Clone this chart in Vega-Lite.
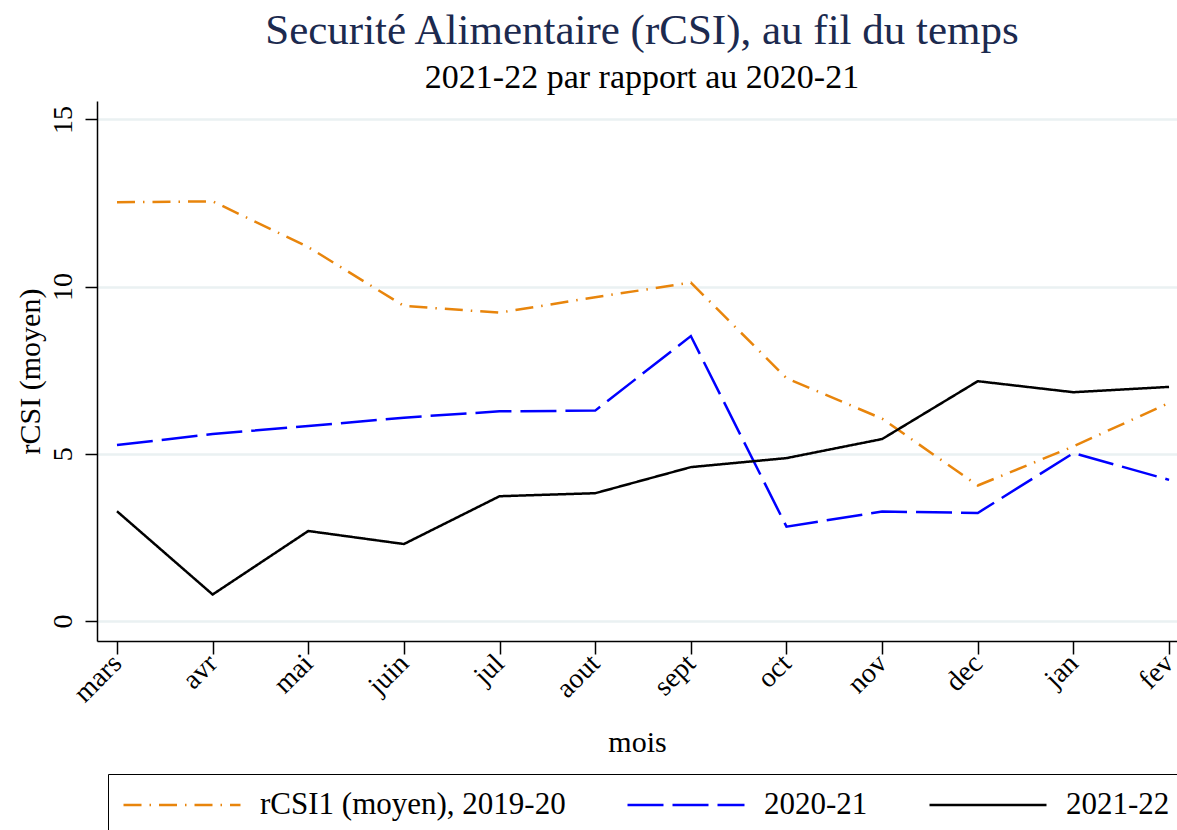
{
  "$schema": "https://vega.github.io/schema/vega-lite/v6.json",
  "width": 1080,
  "height": 540,
  "autosize": {"type": "none"},
  "padding": {"left": 97, "top": 101, "right": 0, "bottom": 189},
  "background": "white",
  "title": {
    "text": "Securité Alimentaire (rCSI), au fil du temps",
    "subtitle": "2021-22 par rapport au 2020-21",
    "anchor": "middle",
    "dx": 5,
    "offset": 6,
    "font": "Liberation Serif",
    "fontSize": 43,
    "fontWeight": "normal",
    "color": "#1c2a4f",
    "subtitleFont": "Liberation Serif",
    "subtitleFontSize": 34,
    "subtitleColor": "black",
    "subtitlePadding": 8
  },
  "data": {
    "values": [
      {"m": 0, "mois": "mars", "serie": "rCSI1 (moyen), 2019-20", "rcsi": 12.52},
      {"m": 1, "mois": "avr", "serie": "rCSI1 (moyen), 2019-20", "rcsi": 12.55},
      {"m": 2, "mois": "mai", "serie": "rCSI1 (moyen), 2019-20", "rcsi": 11.18},
      {"m": 3, "mois": "juin", "serie": "rCSI1 (moyen), 2019-20", "rcsi": 9.42},
      {"m": 4, "mois": "jul", "serie": "rCSI1 (moyen), 2019-20", "rcsi": 9.22},
      {"m": 5, "mois": "aout", "serie": "rCSI1 (moyen), 2019-20", "rcsi": 9.68},
      {"m": 6, "mois": "sept", "serie": "rCSI1 (moyen), 2019-20", "rcsi": 10.12},
      {"m": 7, "mois": "oct", "serie": "rCSI1 (moyen), 2019-20", "rcsi": 7.26},
      {"m": 8, "mois": "nov", "serie": "rCSI1 (moyen), 2019-20", "rcsi": 6.05},
      {"m": 9, "mois": "dec", "serie": "rCSI1 (moyen), 2019-20", "rcsi": 4.05},
      {"m": 10, "mois": "jan", "serie": "rCSI1 (moyen), 2019-20", "rcsi": 5.22},
      {"m": 11, "mois": "fev", "serie": "rCSI1 (moyen), 2019-20", "rcsi": 6.52},
      {"m": 0, "mois": "mars", "serie": "2020-21", "rcsi": 5.26},
      {"m": 1, "mois": "avr", "serie": "2020-21", "rcsi": 5.59},
      {"m": 2, "mois": "mai", "serie": "2020-21", "rcsi": 5.83},
      {"m": 3, "mois": "juin", "serie": "2020-21", "rcsi": 6.08},
      {"m": 4, "mois": "jul", "serie": "2020-21", "rcsi": 6.27},
      {"m": 5, "mois": "aout", "serie": "2020-21", "rcsi": 6.29},
      {"m": 6, "mois": "sept", "serie": "2020-21", "rcsi": 8.52},
      {"m": 7, "mois": "oct", "serie": "2020-21", "rcsi": 2.82},
      {"m": 8, "mois": "nov", "serie": "2020-21", "rcsi": 3.27},
      {"m": 9, "mois": "dec", "serie": "2020-21", "rcsi": 3.23},
      {"m": 10, "mois": "jan", "serie": "2020-21", "rcsi": 5.02},
      {"m": 11, "mois": "fev", "serie": "2020-21", "rcsi": 4.22},
      {"m": 0, "mois": "mars", "serie": "2021-22", "rcsi": 3.28},
      {"m": 1, "mois": "avr", "serie": "2021-22", "rcsi": 0.79},
      {"m": 2, "mois": "mai", "serie": "2021-22", "rcsi": 2.69},
      {"m": 3, "mois": "juin", "serie": "2021-22", "rcsi": 2.3},
      {"m": 4, "mois": "jul", "serie": "2021-22", "rcsi": 3.73},
      {"m": 5, "mois": "aout", "serie": "2021-22", "rcsi": 3.82},
      {"m": 6, "mois": "sept", "serie": "2021-22", "rcsi": 4.6},
      {"m": 7, "mois": "oct", "serie": "2021-22", "rcsi": 4.87},
      {"m": 8, "mois": "nov", "serie": "2021-22", "rcsi": 5.44},
      {"m": 9, "mois": "dec", "serie": "2021-22", "rcsi": 7.17},
      {"m": 10, "mois": "jan", "serie": "2021-22", "rcsi": 6.84},
      {"m": 11, "mois": "fev", "serie": "2021-22", "rcsi": 7.0}
    ]
  },
  "mark": {"type": "line", "strokeWidth": 2.5},
  "encoding": {
    "x": {
      "field": "m",
      "type": "quantitative",
      "scale": {"domain": [-0.209, 11.083], "nice": false, "zero": false},
      "axis": {
        "title": "mois",
        "values": [0, 1, 2, 3, 4, 5, 6, 7, 8, 9, 10, 11],
        "labelExpr": "['mars','avr','mai','juin','jul','aout','sept','oct','nov','dec','jan','fev'][datum.value]",
        "labelAngle": -45,
        "labelAlign": "right",
        "labelBaseline": "middle",
        "labelPadding": 5,
        "labelFont": "Liberation Serif",
        "labelFontSize": 28,
        "labelColor": "black",
        "labelOverlap": false,
        "labelFlush": false,
        "titleFont": "Liberation Serif",
        "titleFontSize": 30,
        "titleFontWeight": "normal",
        "titleColor": "black",
        "titlePadding": 20,
        "tickSize": 13,
        "tickColor": "black",
        "tickWidth": 1.5,
        "domainColor": "black",
        "domainWidth": 1.5,
        "grid": false
      }
    },
    "y": {
      "field": "rcsi",
      "type": "quantitative",
      "scale": {"domain": [-0.6, 15.55], "nice": false, "zero": false},
      "axis": {
        "title": "rCSI (moyen)",
        "values": [0, 5, 10, 15],
        "labelAngle": 270,
        "labelAlign": "center",
        "labelBaseline": "bottom",
        "labelPadding": 8,
        "labelFont": "Liberation Serif",
        "labelFontSize": 28,
        "labelColor": "black",
        "titleFont": "Liberation Serif",
        "titleFontSize": 30,
        "titleFontWeight": "normal",
        "titleColor": "black",
        "titlePadding": 4,
        "tickSize": 12,
        "tickColor": "black",
        "tickWidth": 1.5,
        "domainColor": "black",
        "domainWidth": 1.5,
        "grid": true,
        "gridColor": "#eaf1f2",
        "gridWidth": 2.5
      }
    },
    "color": {
      "field": "serie",
      "type": "nominal",
      "scale": {
        "domain": ["rCSI1 (moyen), 2019-20", "2020-21", "2021-22"],
        "range": ["#e8850c", "#0000ff", "#000000"]
      },
      "legend": {
        "title": null,
        "orient": "none",
        "legendX": 11,
        "legendY": 673,
        "direction": "horizontal",
        "columns": 3,
        "columnPadding": 60,
        "clipHeight": 34,
        "strokeColor": "black",
        "padding": 14,
        "symbolType": "stroke",
        "symbolSize": 13689,
        "symbolStrokeWidth": 2.5,
        "labelFont": "Liberation Serif",
        "labelFontSize": 31,
        "labelColor": "black",
        "labelOffset": 18,
        "labelLimit": 500
      }
    },
    "strokeDash": {
      "field": "serie",
      "type": "nominal",
      "scale": {
        "domain": ["rCSI1 (moyen), 2019-20", "2020-21", "2021-22"],
        "range": [[18, 8, 1.5, 8], [36, 9], [1, 0]]
      },
      "legend": {
        "title": null,
        "orient": "none",
        "legendX": 11,
        "legendY": 673,
        "direction": "horizontal",
        "columns": 3,
        "columnPadding": 60,
        "clipHeight": 34,
        "strokeColor": "black",
        "padding": 14,
        "symbolType": "stroke",
        "symbolSize": 13689,
        "symbolStrokeWidth": 2.5,
        "labelFont": "Liberation Serif",
        "labelFontSize": 31,
        "labelColor": "black",
        "labelOffset": 18,
        "labelLimit": 500
      }
    }
  },
  "config": {
    "view": {"stroke": null}
  }
}
